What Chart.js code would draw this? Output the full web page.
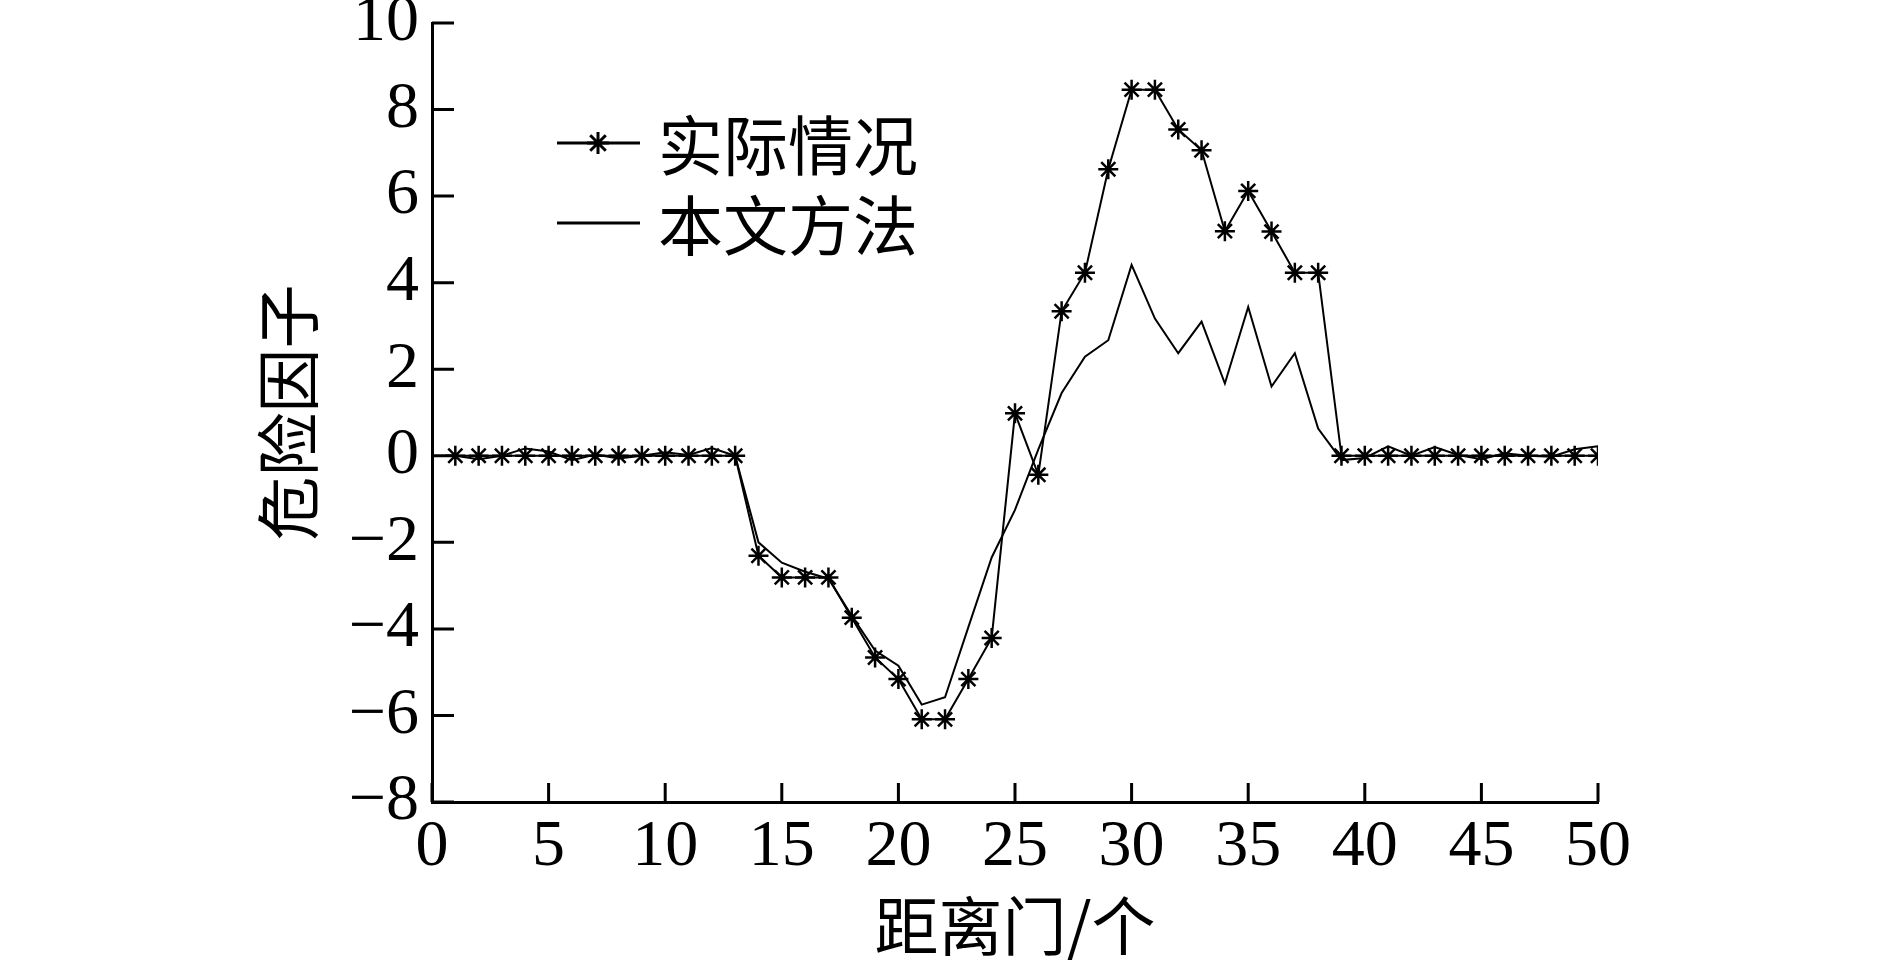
<!DOCTYPE html>
<html>
<head>
<meta charset="utf-8">
<script src="https://cdn.jsdelivr.net/npm/chart.js@4.4.1/dist/chart.umd.min.js"></script>
<style>
  html, body { margin: 0; padding: 0; background: #ffffff; }
  canvas { display: block; }
</style>
</head>
<body>
<canvas id="c" width="1889" height="960"></canvas>
<script>
// ---- data ----
const gates = [1,2,3,4,5,6,7,8,9,10,11,12,13,14,15,16,17,18,19,20,21,22,23,24,25,26,27,28,29,30,31,32,33,34,35,36,37,38,39,40,41,42,43,44,45,46,47,48,49,50];
const actualValues = [0,0,0,0,0,0,0,0,0,0,0,0,0,-2.31,-2.81,-2.81,-2.81,-3.74,-4.66,-5.16,-6.09,-6.09,-5.16,-4.21,0.98,-0.44,3.34,4.23,6.62,8.46,8.46,7.54,7.06,5.19,6.12,5.18,4.23,4.23,0,0,0,0,0,0,0,0,0,0,0,0];
const methodValues = [0,-0.08,0,0.17,0.1,-0.1,0.03,-0.06,0,0.08,0.02,0.18,0,-2.0,-2.47,-2.68,-2.84,-3.7,-4.5,-4.85,-5.75,-5.58,-3.96,-2.35,-1.25,0.15,1.45,2.29,2.67,4.41,3.17,2.37,3.10,1.67,3.44,1.60,2.37,0.63,-0.1,-0.05,0.22,0,0.2,0.02,-0.08,0.06,0,-0.02,0.15,0.22];
const seriesNames = ['实际情况', '本文方法'];
const xTicks = [0,5,10,15,20,25,30,35,40,45,50];
const yTicks = [-8,-6,-4,-2,0,2,4,6,8,10];
const xTitle = '距离门/个';
const yTitle = '危险因子';

const CJK = '"Noto Sans CJK SC", "Noto Sans CJK JP", sans-serif';
const SERIF = '"Liberation Serif", "DejaVu Serif", serif';

function drawStar(ctx, x, y, r) {
  const d = Math.cos(Math.PI / 4) * r;
  ctx.beginPath();
  ctx.moveTo(x - r, y); ctx.lineTo(x + r, y);
  ctx.moveTo(x, y - r); ctx.lineTo(x, y + r);
  ctx.moveTo(x - d, y - d); ctx.lineTo(x + d, y + d);
  ctx.moveTo(x - d, y + d); ctx.lineTo(x + d, y - d);
  ctx.stroke();
}

const inwardTicks = {
  id: 'inwardTicks',
  afterDraw(chart) {
    const ctx = chart.ctx;
    const xs = chart.scales.x, ys = chart.scales.y;
    const area = chart.chartArea;
    ctx.save();
    ctx.strokeStyle = '#000';
    ctx.lineWidth = 3;
    ctx.beginPath();
    xTicks.forEach(v => {
      const px = xs.getPixelForValue(v);
      ctx.moveTo(px, area.bottom); ctx.lineTo(px, area.bottom - 19);
    });
    yTicks.forEach(v => {
      const py = ys.getPixelForValue(v);
      ctx.moveTo(area.left, py); ctx.lineTo(area.left + 22, py);
    });
    ctx.stroke();
    ctx.restore();
  }
};

const customLegend = {
  id: 'customLegend',
  afterDraw(chart) {
    const ctx = chart.ctx;
    ctx.save();
    ctx.strokeStyle = '#000';
    ctx.fillStyle = '#000';
    const rows = [143, 223];
    rows.forEach((y, i) => {
      ctx.lineWidth = 3;
      ctx.beginPath();
      ctx.moveTo(557, y); ctx.lineTo(640, y);
      ctx.stroke();
      if (i === 0) { ctx.lineWidth = 3; drawStar(ctx, 598, y, 11); }
      ctx.font = '65px ' + CJK;
      ctx.textAlign = 'left';
      ctx.textBaseline = 'middle';
      ctx.fillText(seriesNames[i], 658, y + 2);
    });
    ctx.restore();
  }
};

new Chart(document.getElementById('c'), {
  type: 'line',
  data: {
    datasets: [
      {
        label: seriesNames[0],
        data: gates.map((g, i) => ({ x: g, y: actualValues[i] })),
        borderColor: '#000',
        borderWidth: 2,
        pointStyle: 'star',
        pointRadius: 10,
        pointBorderWidth: 2.5,
        pointBorderColor: '#000',
        pointBackgroundColor: '#000',
        tension: 0,
        fill: false
      },
      {
        label: seriesNames[1],
        data: gates.map((g, i) => ({ x: g, y: methodValues[i] })),
        borderColor: '#000',
        borderWidth: 2,
        pointRadius: 0,
        tension: 0,
        fill: false
      }
    ]
  },
  options: {
    responsive: false,
    animation: false,
    layout: { padding: { left: 252, top: 23, right: 291, bottom: 0 } },
    plugins: { legend: { display: false }, tooltip: { enabled: false } },
    scales: {
      x: {
        type: 'linear',
        min: 0, max: 50,
        afterBuildTicks(s) { s.ticks = xTicks.map(v => ({ value: v })); },
        afterFit(s) { s.height = 158; s.paddingLeft = 0; s.paddingRight = 0; },
        grid: { display: false, drawTicks: false },
        border: { display: true, color: '#000', width: 3 },
        ticks: {
          color: '#000', padding: 6, maxRotation: 0, autoSkip: false,
          font: { family: SERIF, size: 66, lineHeight: 1.2 },
          callback: v => String(v)
        },
        title: {
          display: true, text: xTitle, color: '#000',
          font: { family: CJK, size: 64, lineHeight: 1.0 },
          padding: { top: 0, bottom: 2 }
        }
      },
      y: {
        min: -8, max: 10,
        afterBuildTicks(s) { s.ticks = yTicks.map(v => ({ value: v })); },
        afterFit(s) { s.width = 180; s.paddingTop = 0; s.paddingBottom = 0; },
        grid: { display: false, drawTicks: false },
        border: { display: true, color: '#000', width: 3 },
        ticks: {
          color: '#000', padding: 13,
          font: { family: SERIF, size: 66, lineHeight: 1.0 },
          callback: v => (v < 0 ? '\u2212' + Math.abs(v) : String(v))
        },
        title: {
          display: true, text: yTitle, color: '#000',
          font: { family: CJK, size: 64, lineHeight: 1.0 },
          padding: { top: 4, bottom: 0 }
        }
      }
    }
  },
  plugins: [inwardTicks, customLegend]
});
</script>
</body>
</html>
